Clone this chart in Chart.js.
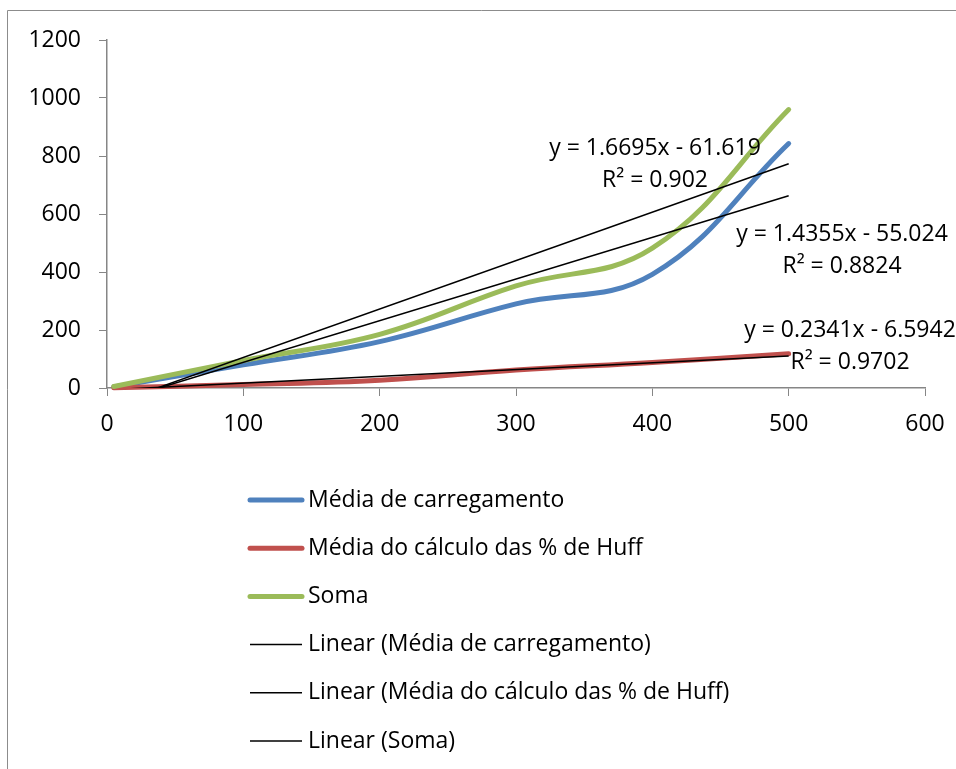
<!DOCTYPE html>
<html>
<head>
<meta charset="utf-8">
<script src="https://cdn.jsdelivr.net/npm/chart.js@4/dist/chart.umd.min.js"></script>
<style>
  html, body { margin: 0; padding: 0; background: #fff; }
  #wrap { width: 956px; height: 769px; position: relative; overflow: hidden; }
</style>
</head>
<body>
<div id="wrap"><canvas id="chart" width="956" height="769"></canvas></div>
<script>
// values
const xValues = [5, 100, 200, 300, 400, 500];
const mediaCarregamento = [4, 80, 160, 290, 392, 843];
const mediaHuff = [0.5, 12, 27, 62, 88, 118];
const soma = [5, 95, 185, 352, 482, 960];

const seriesNames = ["Média de carregamento", "Média do cálculo das % de Huff", "Soma"];
const seriesColors = ["#4F81BD", "#C0504D", "#9BBB59"];

// trendline equations as printed on the chart
const trendSlopes = [1.4355, 0.2341, 1.6695];
const trendIntercepts = [-55.024, -6.5942, -61.619];
const trendR2 = ["0.8824", "0.9702", "0.902"];

const FONT = "'Open Sans'";
const FONT_SIZE = 23;
const toPoints = (ys) => xValues.map((x, i) => ({x: x, y: ys[i]}));

function trendPoints(i) {
    const x0 = xValues[0], x1 = xValues[xValues.length - 1];
    return [
        {x: x0, y: trendSlopes[i] * x0 + trendIntercepts[i]},
        {x: x1, y: trendSlopes[i] * x1 + trendIntercepts[i]}
    ];
}

const fmtSigned = (v) => (v < 0 ? " - " + Math.abs(v) : " + " + v);

// label boxes: [centre x, first line y]
const trendLabelPos = [[842, 234], [850, 330], [655, 148]];

const framePlugin = {
    id: "frame",
    afterDraw(chart) {
        const {ctx} = chart;
        ctx.save();
        ctx.strokeStyle = "#8c8c8c";
        ctx.lineWidth = 1;
        ctx.beginPath();
        ctx.moveTo(7.5, 769);
        ctx.lineTo(7.5, 10.5);
        ctx.lineTo(956, 10.5);
        ctx.stroke();

        // trendline equations
        ctx.fillStyle = "#000";
        ctx.font = FONT_SIZE + "px " + FONT;
        ctx.textAlign = "center";
        ctx.textBaseline = "middle";
        for (let i = 0; i < 3; i++) {
            const [cx, cy] = trendLabelPos[i];
            ctx.fillText("y = " + trendSlopes[i] + "x" + fmtSigned(trendIntercepts[i]), cx, cy);
            ctx.fillText("R² = " + trendR2[i], cx, cy + 32);
        }

        // legend, one item per row
        ctx.textAlign = "left";
        const rowY = 500, rowGap = 48.2;
        chart.data.datasets.forEach((ds, i) => {
            const y = rowY + i * rowGap;
            ctx.strokeStyle = ds.borderColor;
            ctx.lineWidth = ds.borderWidth;
            ctx.lineCap = ds.borderWidth > 2 ? "round" : "butt";
            ctx.beginPath();
            ctx.moveTo(250, y);
            ctx.lineTo(302, y);
            ctx.stroke();
            ctx.fillStyle = "#000";
            ctx.fillText(ds.label, 308, y);
        });
        ctx.restore();
    }
};

const seriesData = [mediaCarregamento, mediaHuff, soma];
const datasets = [];
seriesData.forEach((ys, i) => {
    datasets.push({
        label: seriesNames[i],
        data: toPoints(ys),
        borderColor: seriesColors[i],
        backgroundColor: seriesColors[i],
        borderWidth: 5,
        borderCapStyle: "round",
        pointRadius: 0,
        showLine: true,
        tension: 0.4,
        clip: false,
        order: 3 - i
    });
});
seriesNames.forEach((name, i) => {
    datasets.push({
        label: "Linear (" + name + ")",
        data: trendPoints(i),
        borderColor: "#000",
        backgroundColor: "#000",
        borderWidth: 1.5,
        pointRadius: 0,
        showLine: true,
        tension: 0,
        clip: 0,
        order: 0
    });
});

new Chart(document.getElementById("chart").getContext("2d"), {
    type: "scatter",
    data: {datasets: datasets},
    options: {
        responsive: false,
        animation: false,
        layout: {padding: {top: 40, right: 31, left: 0, bottom: 0}},
        plugins: {legend: {display: false}, tooltip: {enabled: false}},
        scales: {
            x: {
                type: "linear",
                min: 0, max: 600,
                ticks: {stepSize: 100, color: "#000", font: {family: FONT, size: FONT_SIZE}, padding: 15,
                        callback: (v) => String(v)},
                grid: {drawOnChartArea: false, tickLength: 8, color: "#868686"},
                border: {color: "#868686", width: 1.5},
                afterFit(scale) {
                    scale.height = 769 - 388;
                    scale.paddingLeft = 0;
                    scale.paddingRight = 0;
                }
            },
            y: {
                min: 0, max: 1200,
                ticks: {stepSize: 200, color: "#000", font: {family: FONT, size: FONT_SIZE}, padding: 18,
                        callback: (v) => String(v)},
                grid: {drawOnChartArea: false, tickLength: 8, color: "#868686"},
                border: {color: "#868686", width: 1.5},
                afterFit(scale) { scale.width = 107; }
            }
        }
    },
    plugins: [framePlugin]
});
</script>
</body>
</html>
